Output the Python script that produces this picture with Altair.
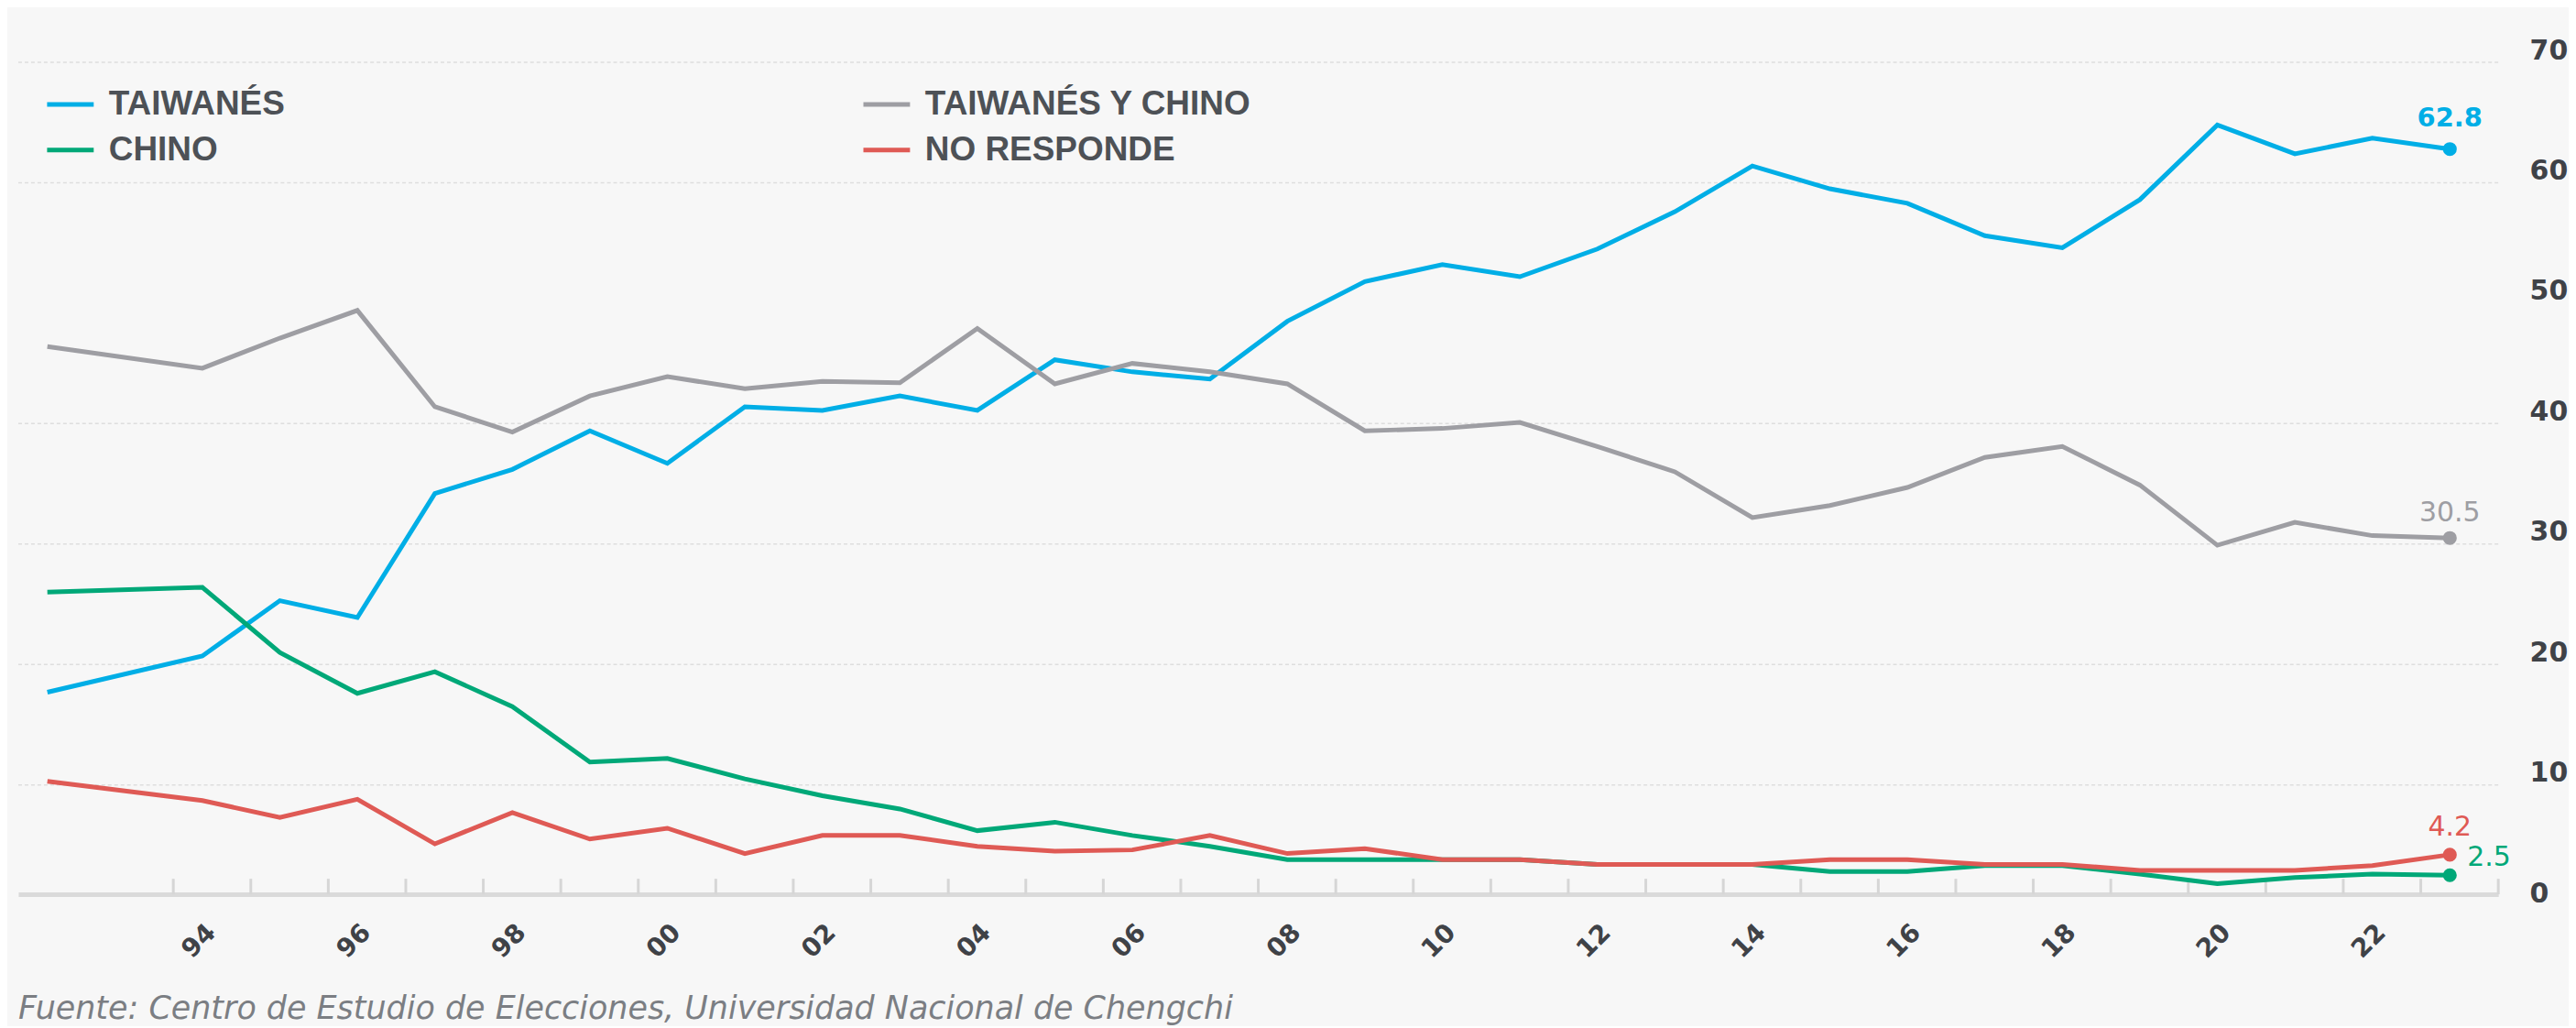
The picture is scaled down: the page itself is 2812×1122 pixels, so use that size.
import altair as alt
import pandas as pd

# ---------------- data ----------------
years = [1992, 1994, 1995, 1996, 1997, 1998, 1999,
         2000, 2001, 2002, 2003, 2004, 2005, 2006, 2007,
         2008, 2009, 2010, 2011, 2012, 2013, 2014, 2015,
         2016, 2017, 2018, 2019, 2020, 2021, 2022, 2023]

taiwanes = [17.7, 20.7, 25.3, 23.9, 34.2, 36.2, 39.4,
            36.7, 41.4, 41.1, 42.3, 41.1, 45.3, 44.3, 43.7,
            48.5, 51.8, 53.2, 52.2, 54.5, 57.6, 61.4, 59.5,
            58.3, 55.6, 54.6, 58.6, 64.8, 62.4, 63.7, 62.8]

taiwanes_y_chino = [46.4, 44.6, 47.1, 49.4, 41.4, 39.3, 42.3,
                    43.9, 42.9, 43.5, 43.4, 47.9, 43.3, 45.0, 44.3,
                    43.3, 39.4, 39.6, 40.1, 38.1, 36.0, 32.2, 33.2,
                    34.7, 37.2, 38.1, 34.9, 29.9, 31.8, 30.7, 30.5]

chino = [26.0, 26.4, 21.0, 17.6, 19.4, 16.5, 11.9,
         12.2, 10.5, 9.1, 8.0, 6.2, 6.9, 5.8, 4.9,
         3.8, 3.8, 3.8, 3.8, 3.4, 3.4, 3.4, 2.8,
         2.8, 3.3, 3.3, 2.6, 1.8, 2.3, 2.6, 2.5]

no_responde = [10.3, 8.7, 7.3, 8.8, 5.1, 7.7, 5.5,
               6.4, 4.3, 5.8, 5.8, 4.9, 4.5, 4.6, 5.8,
               4.3, 4.7, 3.8, 3.8, 3.4, 3.4, 3.4, 3.8,
               3.8, 3.4, 3.4, 2.9, 2.9, 2.9, 3.3, 4.2]

# legend fills column by column: TAIWANÉS / CHINO, then TAIWANÉS Y CHINO / NO RESPONDE
series_names = ["TAIWANÉS", "CHINO", "TAIWANÉS Y CHINO", "NO RESPONDE"]
series_values = [taiwanes, chino, taiwanes_y_chino, no_responde]
series_colors = ["#00aee6", "#00a878", "#9e9ea3", "#df5a55"]

grid_values = [10, 20, 30, 40, 60, 70]
y_tick_values = [0, 10, 20, 30, 40, 50, 60, 70]
tick_years = list(range(1994, 2025))
label_years = list(range(1994, 2023, 2))

source_text = "Fuente: Centro de Estudio de Elecciones, Universidad Nacional de Chengchi"

# ---------------- tables ----------------
rows = []
for name, vals in zip(series_names, series_values):
    for yr, v in zip(years, vals):
        rows.append({"serie": name, "year": yr, "valor": v})
df = pd.DataFrame(rows)

last_year = years[-1]

W, H = 2713, 922
AXIS_OFF = 12

x_scale = alt.Scale(domain=[1992, 2024], nice=False, zero=False)
y_scale = alt.Scale(domain=[0, 70], nice=False, zero=False)
color_scale = alt.Scale(domain=series_names, range=series_colors)

x_axis = alt.Axis(
    title=None, values=label_years, grid=False, ticks=False,
    domain=True, domainColor="#dadada", domainWidth=5, offset=-AXIS_OFF,
    labelExpr="substring(toString(datum.value), 2, 4)",
    labelAngle=315, labelAlign="center", labelBaseline="middle",
    labelOffset=28, labelPadding=51, labelOverlap=False, labelBound=False,
    labelFlush=False,
    labelFont="DejaVu Sans", labelFontWeight="bold", labelFontSize=28,
    labelColor="#3f4247",
)
y_axis = alt.Axis(
    title=None, orient="right", values=y_tick_values, grid=False,
    ticks=False, domain=False, labelAlign="left", labelBaseline="alphabetic",
    labelPadding=34, labelOffset=-4, labelOverlap=False, labelBound=False,
    labelFlush=False,
    labelFont="DejaVu Sans", labelFontWeight="bold", labelFontSize=30,
    labelColor="#3f4247",
)

X = lambda f: alt.X(f, scale=x_scale, axis=x_axis)
Y = lambda f: alt.Y(f, scale=y_scale, axis=y_axis)

grid = alt.Chart(pd.DataFrame({"v": grid_values})).mark_rule(
    color="#dedede", strokeWidth=1.5, strokeDash=[4, 3]
).encode(y=Y("v:Q"))

ticks = alt.Chart(pd.DataFrame({"t": tick_years})).mark_rule(
    color="#d6d6d6", strokeWidth=3
).encode(
    x=X("t:Q"),
    y=alt.value(H - AXIS_OFF - 17),
    y2=alt.value(H - AXIS_OFF),
)

base = alt.Chart(df).transform_calculate(xpos="datum.year + 0.375")

lines = base.mark_line(strokeWidth=5, strokeJoin="miter").encode(
    x=X("xpos:Q"),
    y=Y("valor:Q"),
    color=alt.Color(
        "serie:N", scale=color_scale,
        legend=alt.Legend(
            title=None, orient="none", legendX=29, legendY=18, columns=2,
            symbolType="stroke", symbolSize=2601, symbolStrokeWidth=5,
            labelFont="Liberation Sans", labelFontSize=37,
            labelFontWeight="bold", labelColor="#4d5156", labelOffset=14,
            rowPadding=4, columnPadding=622, labelLimit=2000, padding=0,
        ),
    ),
)

ends = base.transform_filter(f"datum.year == {last_year}")

points = ends.mark_circle(size=230, opacity=1).encode(
    x=X("xpos:Q"), y=Y("valor:Q"),
    color=alt.Color("serie:N", scale=color_scale, legend=None),
)


def end_label(name, dx, dy, align, weight, size):
    return ends.transform_filter(alt.datum.serie == name).mark_text(
        dx=dx, dy=dy, align=align, baseline="middle",
        font="DejaVu Sans", fontSize=size, fontWeight=weight,
    ).encode(
        x=X("xpos:Q"), y=Y("valor:Q"),
        text=alt.Text("valor:Q", format=".1f"),
        color=alt.Color("serie:N", scale=color_scale, legend=None),
    )


labels = [
    end_label("TAIWANÉS", 0, -34, "center", "bold", 29),
    end_label("TAIWANÉS Y CHINO", 0, -27, "center", "normal", 30),
    end_label("NO RESPONDE", 0, -30, "center", "normal", 30),
    end_label("CHINO", 19, -19, "left", "normal", 30),
]

chart = alt.layer(grid, ticks, lines, points, *labels).properties(
    width=W, height=H,
    autosize=alt.AutoSizeParams(type="none"),
    padding={"left": 12, "top": 59, "right": 77, "bottom": 131},
    background="#f7f7f7",
    title=alt.Title(
        source_text, orient="bottom", anchor="start", frame="group",
        font="DejaVu Sans", fontSize=35, fontStyle="italic",
        fontWeight="normal", color="#7b7e83", offset=33,
    ),
).configure_view(strokeWidth=0)

chart.save("out.html", embed_options={"renderer": "svg", "actions": False})
